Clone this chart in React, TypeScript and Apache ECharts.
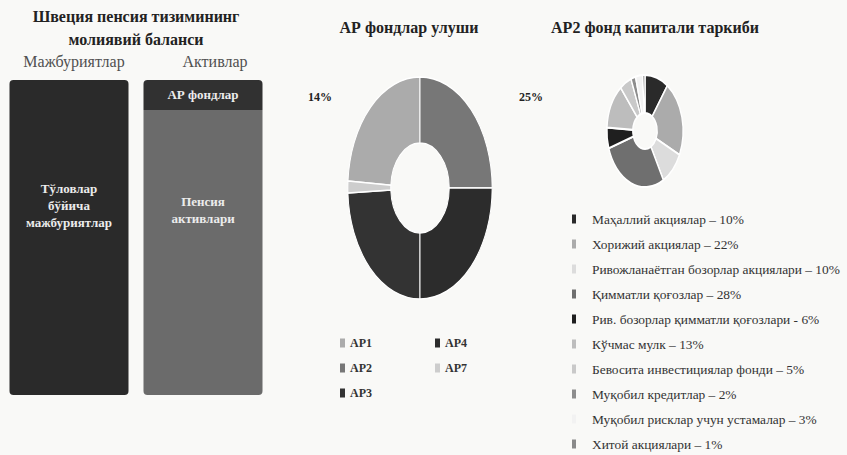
import React, { useEffect, useRef } from 'react';
import * as echarts from 'echarts';

// ---------- data ----------
const balanceTitle = 'Швеция пенсия тизимининг\nмолиявий баланси';
const balanceCategories = ['Мажбуриятлар', 'Активлар'];
const liabilityName = 'Тўловлар\nбўйича\nмажбуриятлар';
const liabilityValues: (number | string)[] = [100, '-'];
const pensionAssetName = 'Пенсия\nактивлари';
const pensionAssetValues: (number | string)[] = ['-', 90.5];
const apFundName = 'АР фондлар';
const apFundValues: (number | string)[] = ['-', 9.5];

const apTitle = 'АР фондлар улуши';
const apNames = ['АР1', 'АР2', 'АР3', 'АР4', 'АР7'];
const apShares = [24, 25, 24.3, 25, 1.7];
const apLabels = ['14%', '25%', '', '', ''];
const apDrawOrder = [1, 3, 2, 4, 0];

const ap2Title = 'АР2 фонд капитали таркиби';
const ap2Names = [
  'Маҳаллий акциялар',
  'Хорижий акциялар',
  'Ривожланаётган бозорлар акциялари',
  'Қимматли қоғозлар',
  'Рив. бозорлар қимматли қоғозлари',
  'Кўчмас мулк',
  'Бевосита инвестициялар фонди',
  'Муқобил кредитлар',
  'Муқобил рисклар учун устамалар',
  'Хитой акциялари',
];
const ap2Shares = [10, 22, 10, 28, 6, 13, 5, 2, 3, 1];
const ap2Dashes = ['–', '–', '–', '–', '-', '–', '–', '–', '–', '–'];
const ap2DrawOrder = [0, 1, 2, 3, 4, 5, 6, 7, 8, 9];

// ---------- styles ----------
const FONT = '"Liberation Serif", "DejaVu Serif", serif';
const apColors = ['#ababab', '#777777', '#333333', '#2c2c2c', '#cdcdcd'];
const ap2Colors = ['#2a2a2a', '#ababab', '#dcdcdc', '#6f6f6f', '#1f1f1f', '#bdbdbd', '#c9c9c9', '#8d8d8d', '#f2f2f2', '#8a8a8a'];
const categoryLabelPadLeft = [10, 24];

type DonutCfg = {
  cx: number; cy: number; r: number; r0: number; sx: number; lw: number;
  labelPos?: [number, number][];
};

function donutSeries(names: string[], shares: number[], colors: string[], order: number[], cfg: DonutCfg, labels?: string[]) {
  const total = shares.reduce((a, b) => a + b, 0);
  const startFrac: number[] = [];
  let acc = 0;
  order.forEach((idx) => { startFrac[idx] = acc; acc += shares[idx]; });
  return names.map((name, i) => ({
    type: 'custom',
    name,
    coordinateSystem: 'none',
    itemStyle: { color: colors[i] },
    data: [[shares[i]]],
    renderItem: (params: any, api: any) => {
      const v = api.value(0) as number;
      const a0 = -Math.PI / 2 + (startFrac[i] / total) * 2 * Math.PI;
      const a1 = a0 + (v / total) * 2 * Math.PI;
      const children: any[] = [
        {
          type: 'group', x: cfg.cx, y: cfg.cy, scaleX: cfg.sx,
          children: [{
            type: 'sector',
            shape: { cx: 0, cy: 0, r: cfg.r, r0: cfg.r0, startAngle: a0, endAngle: a1, clockwise: true },
            style: { fill: api.visual('color'), stroke: '#ffffff', lineWidth: cfg.lw },
          }],
        },
      ];
      if (labels && labels[i] && cfg.labelPos) {
        children.push({
          type: 'text',
          x: cfg.cx + cfg.labelPos[i][0], y: cfg.cy + cfg.labelPos[i][1],
          style: { text: labels[i], fill: '#222', font: `bold 12px ${FONT}`, align: 'center', verticalAlign: 'middle' },
        });
      }
      return { type: 'group', children };
    },
  }));
}

export default function App() {
  const ref = useRef<HTMLDivElement>(null);
  useEffect(() => {
    if (!ref.current) return;
    const chart = echarts.init(ref.current, undefined, { renderer: 'svg' });
    const barLabel = { show: true, position: 'inside', color: '#ececec', fontFamily: FONT, fontWeight: 'bold', fontSize: 13, lineHeight: 17 };
    const option: any = {
      animation: false,
      backgroundColor: '#f9f9f7',
      graphic: [
        { type: 'text', x: 136, y: 28, style: { text: balanceTitle, fill: '#222', font: `bold 16px ${FONT}`, align: 'center', verticalAlign: 'middle', lineHeight: 23 } },
        { type: 'text', x: 409, y: 27, style: { text: apTitle, fill: '#222', font: `bold 16px ${FONT}`, align: 'center', verticalAlign: 'middle' } },
        { type: 'text', x: 655, y: 27, style: { text: ap2Title, fill: '#222', font: `bold 16px ${FONT}`, align: 'center', verticalAlign: 'middle' } },
      ],
      grid: { left: 2, width: 268, top: 80, bottom: 60 },
      xAxis: {
        type: 'category', position: 'top',
        data: balanceCategories.map((c, i) => ({ value: c, textStyle: { padding: [0, 0, 0, categoryLabelPadLeft[i]] } })),
        axisLine: { show: false }, axisTick: { show: false },
        axisLabel: { color: '#505050', fontFamily: FONT, fontSize: 16, margin: 11 },
      },
      yAxis: { type: 'value', min: 0, max: 100, show: false },
      legend: [
        {
          data: apNames.slice(0, 3), orient: 'vertical', left: 335, top: 331, itemGap: 11,
          icon: 'rect', itemWidth: 5, itemHeight: 9,
          textStyle: { fontFamily: FONT, fontSize: 12, fontWeight: 'bold', color: '#333', lineHeight: 14 },
        },
        {
          data: apNames.slice(3), orient: 'vertical', left: 430, top: 331, itemGap: 11,
          icon: 'rect', itemWidth: 5, itemHeight: 9,
          textStyle: { fontFamily: FONT, fontSize: 12, fontWeight: 'bold', color: '#333', lineHeight: 14 },
        },
        {
          data: ap2Names, orient: 'vertical', left: 572, top: 212, padding: 0, itemGap: 11,
          height: 250,
          icon: 'rect', itemWidth: 4, itemHeight: 9,
          formatter: (name: string) => {
            const i = ap2Names.indexOf(name);
            return `${name} ${ap2Dashes[i]} ${ap2Shares[i]}%`;
          },
          textStyle: { fontFamily: FONT, fontSize: 13.4, color: '#333', lineHeight: 14, padding: [0, 0, 0, 11] },
        },
      ],
      series: [
        {
          type: 'bar', name: liabilityName, stack: 'b', data: liabilityValues, barWidth: 119,
          itemStyle: { color: '#2a2a2a', borderRadius: 4 },
          label: { ...barLabel, formatter: liabilityName, offset: [0, -32] },
        },
        {
          type: 'bar', name: pensionAssetName, stack: 'b', data: pensionAssetValues, barWidth: 119,
          itemStyle: { color: '#6b6b6b', borderRadius: [0, 0, 4, 4] },
          label: { ...barLabel, formatter: pensionAssetName, offset: [0, -42] },
        },
        {
          type: 'bar', name: apFundName, stack: 'b', data: apFundValues, barWidth: 119,
          itemStyle: { color: '#313131', borderRadius: [4, 4, 0, 0] },
          label: { ...barLabel, formatter: apFundName },
        },
        ...donutSeries(apNames, apShares, apColors, apDrawOrder,
          { cx: 420, cy: 188, r: 111, r0: 45, sx: 0.65, lw: 1.5, labelPos: [[-100, -91], [111, -91], [0, 0], [0, 0], [0, 0]] },
          apLabels),
        ...donutSeries(ap2Names, ap2Shares, ap2Colors, ap2DrawOrder,
          { cx: 645, cy: 131, r: 56, r0: 18, sx: 0.68, lw: 2 }),
      ],
    };
    chart.setOption(option);
    return () => chart.dispose();
  }, []);
  return <div ref={ref} style={{ position: 'fixed', left: 0, top: 0, width: 847, height: 455 }} />;
}
